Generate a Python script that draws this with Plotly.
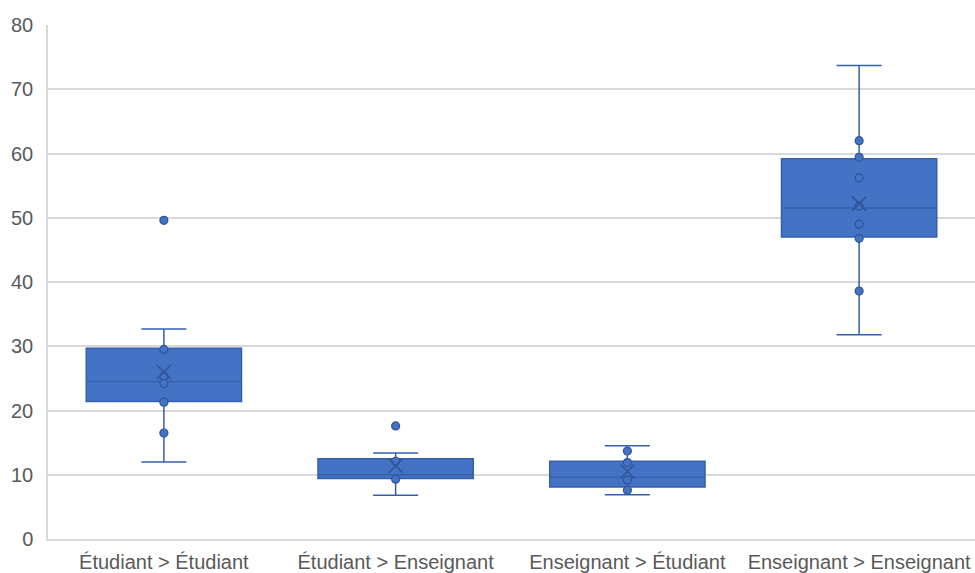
import plotly.graph_objects as go

categories = ["Étudiant > Étudiant", "Étudiant > Enseignant", "Enseignant > Étudiant", "Enseignant > Enseignant"]
lower_whisker = [12.0, 6.8, 6.9, 31.8]
q1 = [21.4, 9.4, 8.1, 47.0]
median = [24.5, 10.0, 9.6, 51.5]
q3 = [29.7, 12.5, 12.1, 59.2]
upper_whisker = [32.7, 13.4, 14.5, 73.7]
means = [26.0, 11.4, 10.5, 52.2]
points_1 = [49.6, 29.5, 25.3, 24.2, 21.3, 16.5]
points_2 = [17.6, 12.1, 9.3]
points_3 = [13.7, 11.9, 9.2, 7.6]
points_4 = [62.0, 59.4, 56.2, 51.8, 49.0, 46.8, 38.6]
y_ticks = [0, 10, 20, 30, 40, 50, 60, 70, 80]

FILL = "#4472C4"
DARK = "#3560AC"

fig = go.Figure()
fig.add_trace(go.Box(
    x=categories, q1=q1, median=median, q3=q3,
    lowerfence=lower_whisker, upperfence=upper_whisker,
    fillcolor=FILL, line=dict(color=DARK, width=1.5),
    width=0.67, whiskerwidth=0.29, boxpoints=False, showlegend=False,
    hoverinfo="skip",
))

all_points = [points_1, points_2, points_3, points_4]
px, py = [], []
for cat, pts in zip(categories, all_points):
    px += [cat] * len(pts)
    py += pts
fig.add_trace(go.Scatter(
    x=px, y=py, mode="markers",
    marker=dict(color=FILL, size=8, line=dict(color="#2F5597", width=1.2)),
    showlegend=False,
))
fig.add_trace(go.Scatter(
    x=categories, y=means, mode="markers",
    marker=dict(symbol="x-thin", size=14, line=dict(color="#2F5597", width=1.6)),
    showlegend=False,
))

fig.update_layout(
    width=975, height=573,
    margin=dict(l=48, r=0, t=25, b=34),
    paper_bgcolor="white", plot_bgcolor="white",
    font=dict(family="Liberation Sans, Arial, sans-serif", size=20, color="#595959"),
    xaxis=dict(
        type="category", categoryorder="array", categoryarray=categories,
        showgrid=False, showline=True, linecolor="#D9D9D9", linewidth=1.5,
        ticks="", tickfont=dict(size=20, color="#595959"), automargin=False,
        range=[-0.5, 3.5], zeroline=False, ticklabelstandoff=4,
    ),
    yaxis=dict(
        range=[0, 80], tickvals=y_ticks, showgrid=True, gridcolor="#D9D9D9", gridwidth=1.5,
        showline=True, linecolor="#D9D9D9", linewidth=1.5, ticks="", zeroline=False,
        tickfont=dict(size=20, color="#595959"), ticklabelstandoff=9, automargin=False,
    ),
)

fig.write_html(
    "out.html",
    config={"displayModeBar": False},
    post_script="document.body.style.margin='0';document.body.style.overflow='hidden';",
)
